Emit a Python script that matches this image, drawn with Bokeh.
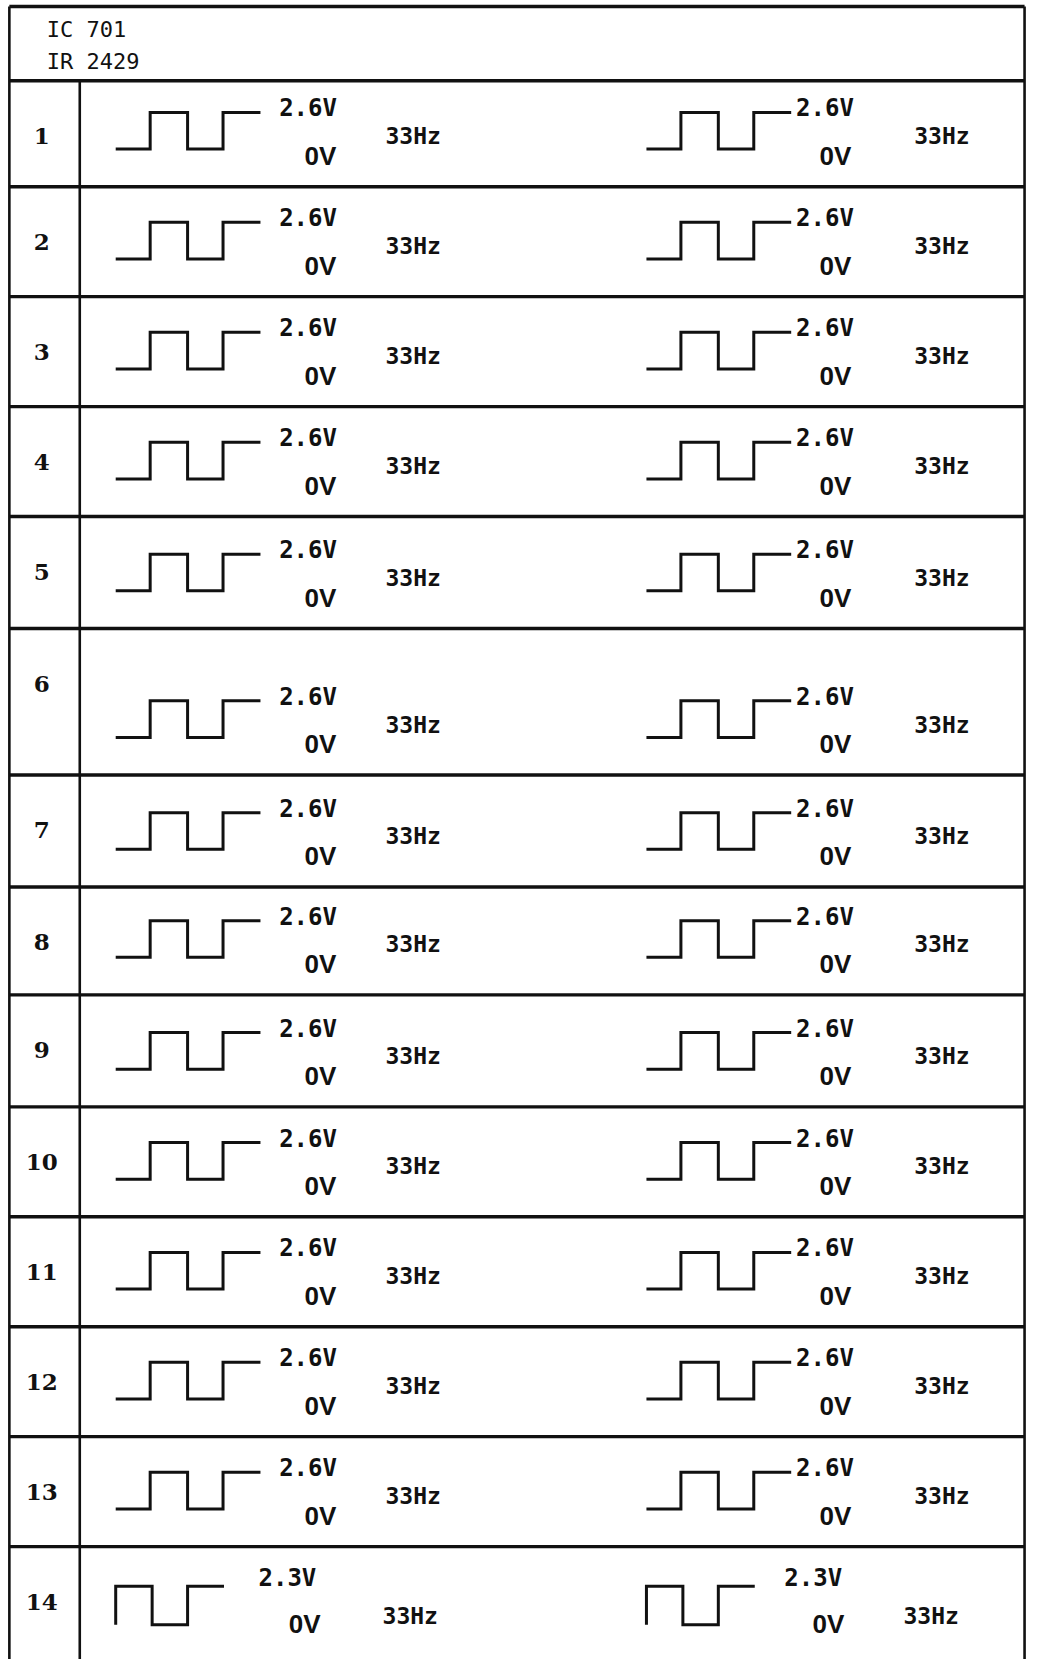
from bokeh.plotting import figure
from bokeh.models import Range1d
from bokeh.core.properties import value
from bokeh.embed import file_html
from bokeh.resources import INLINE

# ---------------- data ----------------
header_lines = ["IC 701", "IR 2429"]
pins = ["1", "2", "3", "4", "5", "6", "7", "8", "9", "10", "11", "12", "13", "14"]
high_left = ["2.6V", "2.6V", "2.6V", "2.6V", "2.6V", "2.6V", "2.6V",
             "2.6V", "2.6V", "2.6V", "2.6V", "2.6V", "2.6V", "2.3V"]
high_right = ["2.6V", "2.6V", "2.6V", "2.6V", "2.6V", "2.6V", "2.6V",
              "2.6V", "2.6V", "2.6V", "2.6V", "2.6V", "2.6V", "2.3V"]
low_left = ["0V", "0V", "0V", "0V", "0V", "0V", "0V",
            "0V", "0V", "0V", "0V", "0V", "0V", "0V"]
low_right = ["0V", "0V", "0V", "0V", "0V", "0V", "0V",
             "0V", "0V", "0V", "0V", "0V", "0V", "0V"]
freq_left = ["33Hz", "33Hz", "33Hz", "33Hz", "33Hz", "33Hz", "33Hz",
             "33Hz", "33Hz", "33Hz", "33Hz", "33Hz", "33Hz", "33Hz"]
freq_right = ["33Hz", "33Hz", "33Hz", "33Hz", "33Hz", "33Hz", "33Hz",
              "33Hz", "33Hz", "33Hz", "33Hz", "33Hz", "33Hz", "33Hz"]
wave_kind = ["step", "step", "step", "step", "step", "step", "step",
             "step", "step", "step", "step", "step", "step", "pulse"]

# ---------------- layout (sheet units) ----------------
W, H = 1028, 1659          # figure size in px
SW, SH = 1044, 1675        # sheet coordinate space
row_edges = [6, 81, 188, 299, 410, 521, 634, 782, 895, 1004, 1117, 1228, 1339, 1450, 1561, 1675]
x_left, x_div, x_right = 9, 80.5, 1040
INK = "#111111"

# waveform templates: (dx, level) points, level 0 = low, 1 = high
templates = {
    "step": [(0, 0), (35, 0), (35, 1), (73, 1), (73, 0), (109, 0), (109, 1), (147, 1)],
    "pulse": [(0, 0), (0, 1), (37, 1), (37, 0), (73, 0), (73, 1), (110, 1)],
}
# vertical offsets relative to content centre: top, low, hi-label, lo-label, freq
voff = {"step": (-20, 17, -24, 24, 4), "pulse": (-19, 20, -27, 19, 11)}
# column settings: origin x, hi-label left, lo-label right, freq left
cols = [
    {"ox": 117, "hi": 166, "lo": 224, "f": 274, "hi_p": 145, "lo_p": 208, "f_p": 271},
    {"ox": 656, "hi": 152, "lo": 208, "f": 272, "hi_p": 140, "lo_p": 201, "f_p": 261},
]

p = figure(width=W, height=H, x_range=Range1d(0, SW), y_range=Range1d(SH, 0),
           output_backend="svg", toolbar_location=None, min_border=0,
           x_axis_location=None, y_axis_location=None)
p.grid.visible = False
p.outline_line_color = None
p.background_fill_color = "white"
p.border_fill_color = "white"

# table lines
hy = row_edges[:-1]
p.segment(x0=[x_left] * len(hy), y0=hy, x1=[x_right] * len(hy), y1=hy,
          line_color=INK, line_width=3.4)
p.segment(x0=[x_left, x_right, x_div], y0=[row_edges[0], row_edges[0], row_edges[1]],
          x1=[x_left, x_right, x_div], y1=[SH, SH, SH],
          line_color=INK, line_width=2.6)

# header
p.text(x=[47, 47], y=[29, 62], text=header_lines, text_font=value("DejaVu Sans Mono"),
       text_font_size="22px", text_baseline="middle", text_align="left", text_color=INK)

# rows
xs, ys = [], []
pin_x, pin_y = [], []
hi_x, hi_y, hi_t = [], [], []
lo_x, lo_y, lo_t = [], [], []
f_x, f_y, f_t = [], [], []
for i in range(len(pins)):
    top, bot = row_edges[i + 1], row_edges[i + 2]
    centre = (top + bot) / 2
    pin_x.append(42)
    pin_y.append(min(centre + 3, top + 56))
    cy = bot - 55
    kind = wave_kind[i]
    t_off, l_off, hi_off, lo_off, f_off = voff[kind]
    for c, (hv, lv, fv) in zip(cols, [(high_left[i], low_left[i], freq_left[i]),
                                      (high_right[i], low_right[i], freq_right[i])]):
        ox = c["ox"]
        xs.append([ox + dx for dx, lev in templates[kind]])
        ys.append([cy + (t_off if lev else l_off) for dx, lev in templates[kind]])
        sfx = "" if kind == "step" else "_p"
        hi_x.append(ox + c["hi" + sfx]); hi_y.append(cy + hi_off); hi_t.append(hv)
        lo_x.append(ox + c["lo" + sfx]); lo_y.append(cy + lo_off); lo_t.append(lv)
        f_x.append(ox + c["f" + sfx]); f_y.append(cy + f_off); f_t.append(fv)

p.multi_line(xs=xs, ys=ys, line_color=INK, line_width=3, line_join="miter")

p.text(x=pin_x, y=pin_y, text=pins, text_font=value("DejaVu Serif"), text_font_style="bold",
       text_font_size="23px", text_baseline="middle", text_align="center", text_color=INK)
p.text(x=hi_x, y=hi_y, text=hi_t, text_font=value("DejaVu Sans Mono"), text_font_style="bold",
       text_font_size="24px", text_baseline="middle", text_align="left", text_color=INK)
p.text(x=lo_x, y=lo_y, text=lo_t, text_font=value("Liberation Sans"), text_font_style="bold",
       text_font_size="26px", text_baseline="middle", text_align="right", text_color=INK)
p.text(x=f_x, y=f_y, text=f_t, text_font=value("DejaVu Sans Mono"), text_font_style="bold",
       text_font_size="23px", text_baseline="middle", text_align="left", text_color=INK)

open("out.html", "w").write(file_html(p, INLINE))
